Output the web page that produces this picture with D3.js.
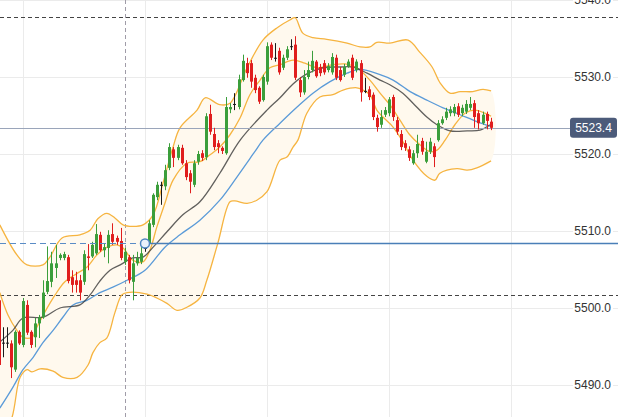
<!DOCTYPE html>
<html><head><meta charset="utf-8">
<script src="https://cdn.jsdelivr.net/npm/d3@7"></script>
<style>html,body{margin:0;padding:0;background:#fff;overflow:hidden}</style>
</head><body><svg id="c" width="618" height="417"></svg>
<script>
// ---------- DATA ----------
const firstIndex = -6;
const opens  = [5501.0,5495.5,5495.5,5495.4,5492.0,5496.9,5495.2,5500.4,5496.9,5496.2,5498.0,5498.8,5502.1,5503.4,5505.2,5506.5,5506.5,5506.6,5504.0,5503.6,5503.6,5503.4,5506.7,5506.7,5507.1,5509.5,5507.5,5507.8,5509.6,5509.1,5508.7,5506.0,5506.6,5503.4,5505.8,5506.0,5507.8,5508.4,5510.8,5514.4,5516.0,5515.8,5518.2,5520.6,5519.5,5520.8,5518.8,5517.5,5516.0,5519.0,5520.1,5519.6,5525.2,5522.6,5521.4,5520.8,5520.1,5525.8,5526.5,5526.1,5529.6,5531.8,5531.8,5529.9,5528.6,5527.0,5529.4,5534.2,5532.5,5533.4,5531.2,5532.5,5534.0,5534.2,5529.6,5528.0,5530.0,5530.9,5532.0,5531.3,5531.8,5530.9,5530.6,5532.5,5530.9,5530.3,5531.4,5532.5,5530.9,5531.8,5528.2,5528.4,5527.7,5524.7,5523.8,5525.1,5525.3,5527.4,5524.4,5522.6,5521.4,5520.6,5518.8,5520.1,5521.7,5519.0,5520.3,5521.0,5521.8,5524.0,5524.7,5525.3,5525.3,5526.2,5525.3,5525.5,5526.0,5526.6,5525.3,5524.0,5525.2,5524.2];
const highs  = [5501.6,5497.5,5497.5,5495.8,5497.1,5497.1,5501.3,5501.0,5497.1,5498.7,5499.1,5503.6,5508.0,5507.3,5508.2,5507.1,5507.3,5506.9,5504.9,5504.7,5504.3,5507.5,5508.3,5508.6,5510.9,5509.9,5508.4,5510.1,5511.0,5509.4,5510.4,5507.8,5506.9,5506.9,5507.3,5507.9,5508.2,5511.4,5514.9,5516.4,5516.4,5518.6,5521.4,5520.9,5521.2,5521.2,5519.2,5517.9,5519.2,5520.4,5520.5,5525.3,5526.4,5523.4,5521.8,5521.0,5527.4,5526.6,5527.9,5530.3,5532.9,5532.5,5532.2,5530.3,5528.8,5530.3,5534.5,5534.5,5534.4,5533.8,5532.9,5534.0,5534.9,5535.3,5530.0,5530.9,5532.0,5533.4,5532.2,5531.7,5532.2,5531.8,5533.1,5532.9,5531.3,5531.7,5532.3,5532.9,5532.3,5532.2,5529.9,5528.8,5528.0,5525.1,5525.7,5526.1,5527.4,5527.7,5524.8,5523.1,5521.8,5521.0,5520.5,5522.5,5522.1,5521.6,5522.1,5521.4,5524.4,5524.9,5526.0,5526.2,5526.5,5526.6,5526.4,5527.0,5527.4,5527.0,5525.7,5525.5,5525.5,5524.7];
const lows   = [5492.2,5493.6,5494.8,5490.9,5491.7,5495.2,5494.9,5496.5,5494.8,5494.9,5496.1,5498.6,5501.8,5502.7,5503.9,5506.2,5506.2,5503.2,5502.0,5502.0,5501.0,5503.0,5504.9,5506.5,5506.9,5507.3,5506.6,5505.8,5508.2,5508.2,5506.2,5505.6,5503.2,5501.0,5505.5,5505.7,5507.3,5508.2,5510.5,5514.0,5513.4,5515.3,5517.9,5518.3,5519.2,5518.6,5516.6,5514.9,5515.7,5518.6,5519.1,5519.2,5522.5,5520.5,5520.1,5520.0,5519.9,5525.3,5525.7,5525.8,5529.4,5529.9,5528.6,5527.9,5526.5,5526.8,5529.0,5532.2,5532.0,5530.3,5530.9,5532.2,5533.5,5529.6,5527.4,5527.7,5529.7,5530.6,5529.9,5530.1,5530.3,5530.6,5530.3,5529.6,5529.4,5530.0,5531.2,5529.6,5530.6,5526.8,5527.9,5527.0,5524.4,5522.9,5523.4,5524.8,5524.9,5524.3,5522.5,5520.5,5520.4,5519.1,5518.6,5519.5,5519.9,5518.8,5520.0,5518.3,5521.6,5523.8,5524.4,5524.9,5524.9,5524.8,5524.9,5525.2,5525.7,5523.4,5523.2,5523.8,5523.2,5523.1];
const closes = [5492.6,5495.5,5495.5,5492.3,5496.9,5495.4,5500.9,5496.8,5495.2,5498.0,5498.8,5502.0,5503.5,5505.8,5505.8,5506.9,5507.0,5503.5,5503.0,5503.0,5502.0,5507.0,5506.5,5508.2,5509.6,5507.5,5507.9,5509.5,5508.6,5508.6,5506.5,5507.3,5503.6,5505.8,5506.5,5507.1,5507.8,5511.0,5514.7,5516.0,5516.0,5517.9,5520.9,5519.5,5520.9,5518.8,5517.0,5516.4,5518.8,5520.0,5519.5,5524.9,5522.9,5520.9,5520.9,5520.4,5526.1,5526.1,5526.5,5529.7,5532.1,5530.5,5529.4,5528.3,5526.8,5530.0,5534.0,5532.5,5532.5,5530.6,5532.5,5533.6,5534.0,5529.9,5528.0,5530.0,5530.9,5532.1,5530.1,5530.5,5530.6,5531.4,5532.6,5529.9,5529.6,5531.3,5532.0,5529.9,5532.0,5528.0,5528.2,5527.4,5524.8,5523.5,5524.8,5525.7,5527.1,5524.8,5522.9,5520.9,5520.8,5519.5,5520.1,5521.3,5520.3,5520.3,5521.6,5519.6,5524.0,5524.5,5525.5,5525.8,5526.1,5525.1,5526.0,5526.5,5526.5,5524.8,5524.0,5525.1,5524.3,5523.4];

// indicator lines: [bar index, price]
const upperBand = [[-5.7,5510.8],[-1.5,5506.9],[1.0,5505.6],[4.9,5505.6],[6.6,5506.6],[9.6,5509.1],[14.0,5509.5],[16.5,5510.1],[18.4,5511.6],[20.6,5512.3],[22.6,5511.7],[24.6,5510.8],[27.0,5510.6],[29.5,5510.8],[32.0,5512.1],[34.4,5516.2],[36.9,5520.9],[38.6,5523.4],[42.8,5525.7],[44.8,5527.3],[48.4,5526.4],[50.9,5526.6],[55.1,5531.2],[59.0,5534.8],[62.5,5536.4],[65.6,5537.4],[66.9,5537.7],[68.8,5535.7],[71.3,5535.1],[74.7,5534.9],[79.7,5534.4],[82.9,5533.9],[85.3,5533.9],[87.0,5534.5],[90.2,5534.4],[94.7,5534.8],[97.6,5533.2],[100.6,5531.3],[102.6,5529.2],[105.0,5527.9],[107.5,5528.1],[110.6,5528.1],[113.1,5528.4],[115.1,5528.2]];
const middleBand = [[-5.7,5502.0],[-3.7,5499.1],[-1.5,5497.1],[0,5496.2],[2.2,5496.2],[3.4,5497.5],[5.4,5499.5],[7.9,5501.7],[10.3,5503.4],[13.3,5504.5],[15.7,5505.3],[18.2,5506.9],[20.7,5507.9],[23.1,5508.2],[24.6,5507.8],[27.0,5506.2],[29.5,5506.0],[31.2,5507.5],[32.9,5510.5],[34.9,5513.6],[36.9,5516.6],[40.3,5518.8],[43.5,5519.0],[46.0,5519.9],[48.4,5520.9],[50.9,5522.5],[53.4,5524.7],[55.8,5527.7],[58.3,5529.6],[60.7,5531.2],[63.2,5531.6],[66.4,5532.2],[69.3,5531.8],[72.3,5531.2],[76.2,5531.6],[79.2,5531.7],[82.1,5531.2],[85.3,5529.6],[87.8,5527.9],[90.2,5526.4],[92.7,5524.4],[95.1,5522.5],[97.6,5521.2],[100.1,5520.3],[101.8,5520.5],[103.8,5521.8],[106.2,5523.8],[108.7,5525.3],[111.1,5525.7],[113.6,5525.3],[115.1,5524.9]];
const lowerBand = [[-5.7,5482.2],[-2.7,5485.8],[-0.7,5491.0],[1.0,5492.0],[2.2,5491.7],[4.2,5492.1],[7.4,5491.8],[9.8,5491.0],[13.3,5491.0],[16.0,5492.6],[17.2,5494.2],[18.9,5495.5],[20.6,5496.1],[22.6,5499.4],[24.3,5501.7],[25.6,5502.0],[30.5,5501.8],[32.9,5501.3],[35.4,5500.6],[37.9,5499.7],[40.3,5500.1],[43.5,5501.3],[45.2,5503.6],[47.9,5508.4],[50.9,5513.8],[52.1,5513.9],[55.1,5513.6],[57.5,5514.0],[60.0,5515.1],[63.2,5519.2],[64.9,5519.6],[66.4,5520.9],[67.6,5521.8],[69.8,5525.3],[73.0,5527.4],[76.2,5527.7],[78.7,5528.3],[82.1,5528.6],[83.6,5528.3],[85.3,5527.7],[87.0,5525.7],[88.5,5524.8],[91.0,5523.5],[93.4,5521.6],[95.9,5519.2],[99.3,5517.1],[101.3,5516.6],[102.5,5517.5],[106.7,5518.1],[109.2,5517.9],[111.6,5518.2],[115.1,5519.1]];
const slowMA = [[-5.7,5495.6],[-2.5,5497.1],[0,5498.7],[4.9,5498.8],[9.1,5500.0],[14.0,5500.4],[16.5,5501.7],[18.9,5503.5],[21.4,5504.9],[23.9,5505.6],[27.0,5506.5],[29.5,5506.6],[32.0,5507.9],[35.4,5509.9],[39.3,5512.1],[43.5,5513.8],[48.4,5517.5],[53.4,5521.8],[60.0,5525.7],[63.2,5527.3],[66.4,5529.1],[69.8,5530.4],[73.8,5531.2],[77.9,5531.3],[81.1,5531.3],[84.6,5530.5],[87.8,5529.6],[90.2,5529.0],[93.4,5527.9],[95.9,5526.6],[99.3,5524.8],[101.8,5523.8],[105.0,5523.0],[109.2,5523.0],[112.4,5523.1],[114.8,5523.8]];
const fastMA = [[-5.7,5487.0],[-2.5,5489.7],[0,5492.0],[2.5,5493.6],[4.9,5495.5],[7.4,5497.1],[9.8,5498.8],[12.3,5500.4],[15.7,5501.0],[18.9,5502.0],[22.1,5502.7],[25.6,5503.6],[30.0,5504.9],[34.9,5507.9],[38.6,5509.5],[43.5,5511.4],[48.4,5514.0],[52.6,5517.0],[57.0,5520.3],[59.0,5521.8],[63.2,5524.0],[67.4,5526.1],[71.3,5527.9],[75.5,5529.4],[79.7,5530.5],[82.9,5531.0],[87.8,5530.3],[91.0,5529.6],[95.2,5528.1],[99.3,5527.0],[103.3,5526.0],[107.5,5525.1],[111.6,5524.2],[114.8,5523.6]];

const yTicks = [5490, 5500, 5510, 5520, 5530, 5540];
const xGridIdx = [0, 30, 60, 90, 120];
const lastPrice = 5523.4;
const resistanceLevel = 5537.8;
const supportLevel = 5501.65;
const alertLevel = 5508.4;
const alertIndex = 30;
const markerIndex = 25;

// ---------- DRAW ----------
const W = 618, H = 417;
const svg = d3.select('#c');
const x = d3.scaleLinear().domain([0, 120]).range([23, 511]);
const y = d3.scaleLinear().domain([5490, 5540]).range([385, 0]);
const cr = v => Math.round(v) + 0.5;
const font = "'Liberation Sans', Arial, sans-serif";

// grid
svg.append('g').selectAll('line').data(xGridIdx).join('line')
  .attr('x1', d => cr(x(d))).attr('x2', d => cr(x(d)))
  .attr('y1', 0).attr('y2', H).attr('stroke', '#ebebeb').attr('stroke-width', 1);
const hg = svg.append('g');
yTicks.forEach(t => {
  hg.append('line').attr('x1', 0).attr('x2', 573).attr('y1', cr(y(t))).attr('y2', cr(y(t)))
    .attr('stroke', '#ebebeb');
  hg.append('line').attr('x1', 613).attr('x2', W).attr('y1', cr(y(t))).attr('y2', cr(y(t)))
    .attr('stroke', '#ebebeb');
});

// band fill
const toPts = arr => arr.map(d => [x(d[0]), y(d[1])]);
const curveLine = d3.line().curve(d3.curveCatmullRom.alpha(0.5));
const fillPts = toPts(upperBand).concat(toPts(lowerBand).reverse());
svg.append('path').attr('d', curveLine(fillPts) + 'Z').attr('fill', '#fff9ee').attr('stroke', 'none');

// vertical marker
svg.append('line').attr('x1', cr(x(markerIndex))).attr('x2', cr(x(markerIndex)))
  .attr('y1', 0).attr('y2', H).attr('stroke', '#a09ca8').attr('stroke-dasharray', '4,3');

// level lines
[resistanceLevel, supportLevel].forEach(l => {
  svg.append('line').attr('x1', 0).attr('x2', W).attr('y1', cr(y(l))).attr('y2', cr(y(l)))
    .attr('stroke', '#444').attr('stroke-dasharray', '4,3');
});

// indicator lines
const drawLine = (arr, color, w, op) => svg.append('path').attr('d', curveLine(toPts(arr)))
  .attr('fill', 'none').attr('stroke', color).attr('stroke-width', w).attr('opacity', op);
drawLine(upperBand, '#f6b440', 1.3, 1);
drawLine(lowerBand, '#f6b440', 1.3, 1);
drawLine(middleBand, '#f6b440', 1.3, 1);
drawLine(fastMA, '#5b9bd8', 1.3, 1);
drawLine(slowMA, '#3a3a3a', 1.3, 0.8);

// price line
svg.append('line').attr('x1', 0).attr('x2', 570).attr('y1', cr(y(lastPrice))).attr('y2', cr(y(lastPrice)))
  .attr('stroke', '#9aa5ba');

// candles
const candles = opens.map((o, k) => ({i: firstIndex + k, o, h: highs[k], l: lows[k], c: closes[k]}));
const cg = svg.append('g');
candles.forEach(d => {
  const col = d.c > d.o ? '#3b9e3b' : (d.c < d.o ? '#e01e1e' : '#1a1a1a');
  const cx = Math.round(x(d.i));
  cg.append('line').attr('x1', cx + 0.5).attr('x2', cx + 0.5).attr('y1', y(d.h)).attr('y2', y(d.l))
    .attr('stroke', col).attr('stroke-width', 1);
  const top = y(Math.max(d.o, d.c)), bot = y(Math.min(d.o, d.c));
  cg.append('rect').attr('x', cx - 1).attr('width', 3)
    .attr('y', top).attr('height', Math.max(1, bot - top)).attr('fill', col);
});

// alert line (dashed before marker, solid after)
const ay = cr(y(alertLevel)), ax = x(alertIndex);
svg.append('line').attr('x1', 0).attr('x2', ax - 5).attr('y1', ay).attr('y2', ay)
  .attr('stroke', '#5a8cc6').attr('stroke-width', 1).attr('stroke-dasharray', '6,4');
svg.append('line').attr('x1', ax + 5).attr('x2', W).attr('y1', ay).attr('y2', ay)
  .attr('stroke', '#4a7fb8').attr('stroke-width', 1.5);
svg.append('circle').attr('cx', ax).attr('cy', ay).attr('r', 4.5)
  .attr('fill', '#eaf1fa').attr('stroke', '#4f86c2').attr('stroke-width', 1.5);

// y labels
svg.append('g').selectAll('text').data(yTicks).join('text')
  .attr('x', 611).attr('y', d => y(d)).attr('dy', '0.35em').attr('text-anchor', 'end')
  .attr('font-family', font).attr('font-size', 12).attr('fill', '#333')
  .text(d => d3.format('.1f')(d));

// price tag
const py = y(lastPrice);
svg.append('rect').attr('x', 570).attr('y', py - 10).attr('width', 47).attr('height', 20)
  .attr('rx', 3).attr('fill', '#4c5b7a');
svg.append('text').attr('x', 593.5).attr('y', py).attr('dy', '0.35em').attr('text-anchor', 'middle')
  .attr('font-family', font).attr('font-size', 12).attr('fill', '#fff').text(d3.format('.1f')(lastPrice));
</script>
</body></html>
